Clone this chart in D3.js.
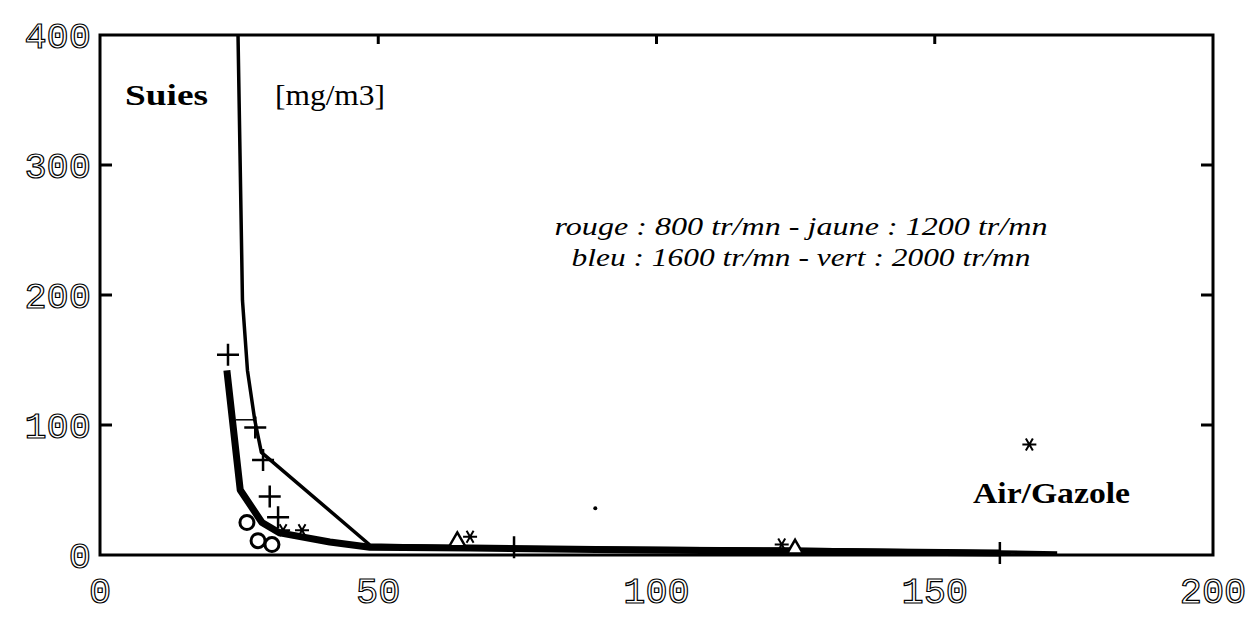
<!DOCTYPE html>
<html><head><meta charset="utf-8">
<script src="https://cdn.jsdelivr.net/npm/d3@7"></script>
<style>
html,body{margin:0;padding:0;background:#fff;}
svg{display:block;}
.tick-label{font-family:"Liberation Mono","DejaVu Sans Mono",monospace;font-size:37px;fill:#fff;stroke:#000;stroke-width:1.2px;}
</style></head>
<body>
<svg id="chart" width="1247" height="618"></svg>
<script>
// ---- data ----
const xTickValues = [0, 50, 100, 150, 200];
const yTickValues = [0, 100, 200, 300, 400];
const yInnerTicks = [100, 200, 300];
const xTopTicks = [50, 100, 150];

// upper envelope (thin line)
const upperX = [24.8, 25.6, 26.5, 27.8, 29.0, 48.5, 66.5, 122, 161.7, 172];
const upperY = [400, 196, 142, 104, 79, 7.7, 6, 4.6, 2.3, 1.5];
// lower envelope (thick line)
const lowerX = [22.8, 25.2, 29.1, 32.3, 41.3, 48.5, 66.5, 97, 122, 161.7];
const lowerY = [142, 50, 25, 17, 10, 6, 5.4, 3.8, 3, 1.5];
// short connector between the two envelopes
const linkX = [24.4, 27.8];
const linkY = [104, 104];

// "+" markers
const plusX = [23, 27.9, 29.3, 30.5, 32, 74.4, 161.7];
const plusY = [154, 98, 73, 45, 29, 6, 1.5];
// "*" markers
const starX = [32.9, 36.3, 66.5, 122.5, 167];
const starY = [19, 19, 14, 8, 85];
// open circles
const circleX = [26.4, 28.4, 30.9];
const circleY = [25, 11, 8];
// open triangles
const triX = [64.2, 124.9];
const triY = [8, 2.3];
// dots
const dotX = [89];
const dotY = [36];

const legendLines = ["rouge : 800 tr/mn - jaune : 1200 tr/mn", "bleu : 1600 tr/mn - vert : 2000 tr/mn"];

// ---- drawing ----
const svg = d3.select("#chart");
const x = d3.scaleLinear().domain([0, 200]).range([100, 1213]);
const y = d3.scaleLinear().domain([0, 400]).range([555, 35]);
const serif = '"Liberation Serif","Times New Roman",Times,serif';

const zip = (a, b) => a.map((v, i) => [v, b[i]]);
const line = d3.line().x(d => x(d[0])).y(d => y(d[1]));

// frame
svg.append("rect").attr("x", x(0)).attr("y", y(400))
  .attr("width", x(200) - x(0)).attr("height", y(0) - y(400))
  .attr("fill", "none").attr("stroke", "#000").attr("stroke-width", 3);

// inner ticks
const g = svg.append("g").attr("stroke", "#000").attr("stroke-width", 3);
yInnerTicks.forEach(t => {
  g.append("line").attr("x1", x(0)).attr("x2", x(0) + 12).attr("y1", y(t)).attr("y2", y(t));
  g.append("line").attr("x1", x(200)).attr("x2", x(200) - 12).attr("y1", y(t)).attr("y2", y(t));
});
xTopTicks.forEach(t => {
  g.append("line").attr("x1", x(t)).attr("x2", x(t)).attr("y1", y(400)).attr("y2", y(400) + 9);
});

// tick labels
svg.append("g").selectAll("text").data(yTickValues).join("text")
  .attr("class", "tick-label").attr("x", 91).attr("y", d => y(d))
  .attr("dy", "0.35em").attr("text-anchor", "end").text(d => d);
svg.append("g").selectAll("text").data(xTickValues).join("text")
  .attr("class", "tick-label").attr("x", d => x(d)).attr("y", 590)
  .attr("dy", "0.35em").attr("text-anchor", "middle").text(d => d);

// curves
svg.append("path").datum(zip(upperX, upperY)).attr("d", line)
  .attr("fill", "none").attr("stroke", "#000").attr("stroke-width", 3.5).attr("stroke-linejoin", "round");
svg.append("path").datum(zip(lowerX, lowerY)).attr("d", line)
  .attr("fill", "none").attr("stroke", "#000").attr("stroke-width", 7).attr("stroke-linejoin", "round");
svg.append("path").datum(zip(linkX, linkY)).attr("d", line)
  .attr("fill", "none").attr("stroke", "#000").attr("stroke-width", 1.5);

// markers
const m = svg.append("g");
m.selectAll(".p").data(zip(plusX, plusY)).join("path")
  .attr("transform", d => `translate(${x(d[0])},${y(d[1])})`)
  .attr("d", "M-11,0H11M0,-11V11").attr("stroke", "#000").attr("stroke-width", 2.5).attr("fill", "none");
m.selectAll(".s").data(zip(starX, starY)).join("path")
  .attr("transform", d => `translate(${x(d[0])},${y(d[1])})`)
  .attr("d", "M-7,0H7M-3.5,-6L3.5,6M-3.5,6L3.5,-6").attr("stroke", "#000").attr("stroke-width", 2).attr("fill", "none");
m.selectAll(".c").data(zip(circleX, circleY)).join("circle")
  .attr("cx", d => x(d[0])).attr("cy", d => y(d[1])).attr("r", 7)
  .attr("fill", "#fff").attr("stroke", "#000").attr("stroke-width", 3);
m.selectAll(".t").data(zip(triX, triY)).join("path")
  .attr("transform", d => `translate(${x(d[0])},${y(d[1]) - 3})`)
  .attr("d", d3.symbol().type(d3.symbolTriangle).size(110))
  .attr("fill", "#fff").attr("stroke", "#000").attr("stroke-width", 2.5);
m.selectAll(".d").data(zip(dotX, dotY)).join("circle")
  .attr("cx", d => x(d[0])).attr("cy", d => y(d[1])).attr("r", 2).attr("fill", "#000");

// texts
svg.append("text").attr("x", 125).attr("y", 105)
  .style("font-family", serif).style("font-weight", "bold").style("font-size", "30px")
  .attr("textLength", 83).attr("lengthAdjust", "spacingAndGlyphs").text("Suies");
svg.append("text").attr("x", 275).attr("y", 105)
  .style("font-family", serif).style("font-size", "30px")
  .attr("textLength", 110).attr("lengthAdjust", "spacingAndGlyphs").text("[mg/m3]");
svg.append("g").selectAll("text").data(legendLines).join("text")
  .attr("x", 801).attr("y", (d, i) => 235 + i * 31).attr("text-anchor", "middle")
  .style("font-family", serif).style("font-style", "italic").style("font-size", "25px")
  .attr("textLength", (d, i) => i === 0 ? 493 : 459).attr("lengthAdjust", "spacingAndGlyphs")
  .text(d => d);
svg.append("text").attr("x", 973).attr("y", 503)
  .style("font-family", serif).style("font-weight", "bold").style("font-size", "30px")
  .attr("textLength", 157).attr("lengthAdjust", "spacingAndGlyphs").text("Air/Gazole");
</script>
</body></html>
